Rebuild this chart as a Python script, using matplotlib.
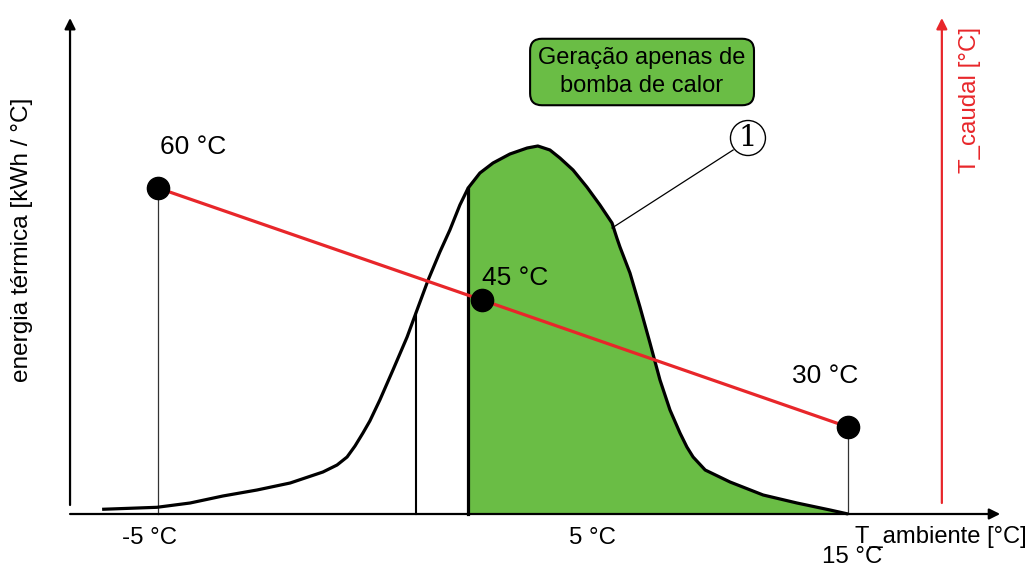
import numpy as np
import matplotlib
matplotlib.use("Agg")
import matplotlib.pyplot as plt

plt.rcParams['font.family'] = ['Liberation Sans', 'DejaVu Sans']

# heating energy distribution over ambient temperature (schematic)
t_amb = [-6.62, -5.03, -4.07, -3.12, -2.13, -1.17, -0.22, 0.19, 0.48, 0.71,
         0.94, 1.14, 1.43, 1.81, 2.22, 2.54, 2.83, 3.17, 3.46, 3.75,
         3.99, 4.33, 4.71, 5.20, 5.70, 6.01, 6.36, 6.65, 7.03, 7.43,
         7.81, 8.16, 8.30, 8.39, 8.68, 8.97, 9.26, 9.55, 9.84, 10.13,
         10.33, 10.51, 10.86, 11.58, 12.54, 13.52, 14.48, 15.0]
energia = [0.047, 0.067, 0.11, 0.18, 0.24, 0.31, 0.42, 0.49, 0.57, 0.68,
           0.81, 0.93, 1.14, 1.44, 1.77, 2.07, 2.34, 2.62, 2.84, 3.09,
           3.26, 3.41, 3.51, 3.60, 3.66, 3.68, 3.64, 3.56, 3.44, 3.27,
           3.09, 2.91, 2.76, 2.67, 2.41, 2.07, 1.71, 1.34, 1.04, 0.81,
           0.67, 0.57, 0.44, 0.32, 0.19, 0.11, 0.04, 0.0]

# flow temperature curve points
t_pts = [-5.0, 4.39, 15.0]
e_pts = [3.26, 2.14, 0.87]
caudal_labels = ['60 °C', '45 °C', '30 °C']

t_limit1 = 2.48   # thin line
t_limit2 = 3.99   # start of heat pump only region

tick_vals = [-5.25, 7.58, 15.12]
tick_labels = ['-5 °C', '5 °C', '15 °C']

t_arr = np.array(t_amb)
e_arr = np.array(energia)

fig = plt.figure(figsize=(10.32, 5.69), dpi=100)
ax = fig.add_axes([0, 0, 1, 1])
ax.set_xlim(-9.58, 20.333)
ax.set_ylim(-0.55, 5.14)
ax.axis('off')

green = '#6abd45'
red = '#e8262a'

# green area
m = t_arr >= t_limit2
ax.fill_between(t_arr[m], 0, e_arr[m], color=green, lw=0, zorder=1)

# curve
ax.plot(t_arr, e_arr, color='black', lw=2.3, zorder=3, solid_joinstyle='round',
        solid_capstyle='butt')

# vertical limits
ax.plot([t_limit1, t_limit1], [0, np.interp(t_limit1, t_arr, e_arr)], color='black', lw=1.5, zorder=2)
ax.plot([t_limit2, t_limit2], [0, np.interp(t_limit2, t_arr, e_arr)], color='black', lw=2.3, zorder=2)

# thin lines under the end points
ax.plot([t_pts[0], t_pts[0]], [0, e_pts[0]], color='#333333', lw=0.9, zorder=2)
ax.plot([t_pts[2], t_pts[2]], [0, e_pts[2]], color='#333333', lw=0.9, zorder=2)

# axes arrows
arrow = dict(arrowstyle='-|>', color='black', lw=1.6, mutation_scale=16, shrinkA=0, shrinkB=0)
ax.annotate('', xy=(19.41, 0), xytext=(-7.55, 0), arrowprops=arrow, zorder=4)
ax.annotate('', xy=(-7.55, 4.96), xytext=(-7.55, 0.09), arrowprops=arrow, zorder=4)
arrow_r = dict(arrow, color=red)
ax.annotate('', xy=(17.72, 4.96), xytext=(17.72, 0.11), arrowprops=arrow_r, zorder=4)

# flow temperature line
ax.plot(t_pts, e_pts, color=red, lw=2.3, zorder=5)
ax.plot(t_pts, e_pts, 'o', color='black', ms=16, zorder=6)

label_pos = [(-3.99, 3.67), (5.35, 2.36), (14.33, 1.38)]
for (lx, ly), lab in zip(label_pos, caudal_labels):
    ax.text(lx, ly, lab, fontsize=19, ha='center', va='center', zorder=7)

for v, lab in zip(tick_vals, tick_labels):
    ax.text(v, -0.24 if v < 15 else -0.43, lab, fontsize=17.3, ha='center', va='center')

ax.text(15.2, -0.23, 'T_ambiente [°C]', fontsize=17.1, ha='left', va='center')
ax.text(-8.94, 2.74, 'energia térmica [kWh / °C]', fontsize=17.6, rotation=90,
        ha='center', va='center')
ax.text(18.54, 4.14, 'T_caudal [°C]', fontsize=17.4, rotation=90, color=red,
        ha='center', va='center')

# box
ax.text(9.03, 4.42, 'Geração apenas de\nbomba de calor', fontsize=17, ha='center',
        va='center', linespacing=1.35,
        bbox=dict(boxstyle='round,pad=0.35,rounding_size=0.5', fc=green, ec='black', lw=1.5))

# marker 1
ax.plot([8.16, 11.67], [2.86, 3.64], color='black', lw=0.9)
ax.text(12.10, 3.76, '1', fontsize=21, family='DejaVu Serif', ha='center', va='center',
        bbox=dict(boxstyle='circle,pad=0.12', fc='white', ec='black', lw=1.0))

fig.savefig('out.png', dpi=100)
